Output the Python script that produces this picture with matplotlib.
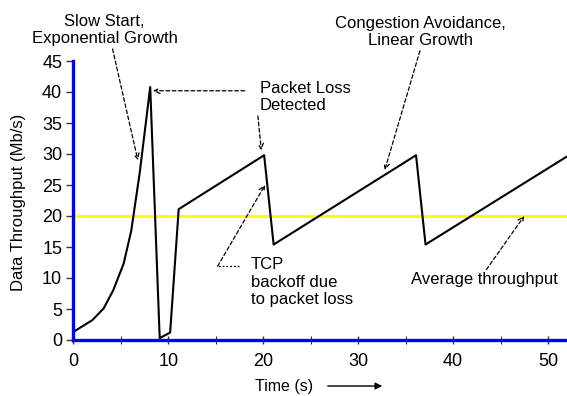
import matplotlib
matplotlib.use('Agg')
import matplotlib.pyplot as plt

plt.rcParams['font.family'] = ['Liberation Sans', 'DejaVu Sans']

# throughput trace (time in s, throughput in Mb/s)
time_s = [0, 2, 3.2, 4.2, 5.3, 6.1, 7, 8.1, 9.1, 10.2, 11.1, 20.1, 21.1, 36.1, 37.1, 52]
throughput = [1.3, 3.2, 5.1, 8, 12.3, 17.6, 27, 40.8, 0.3, 1.2, 21.1, 29.8, 15.4, 29.8, 15.4, 29.6]
average = 20

x_ticks = [0, 10, 20, 30, 40, 50]
y_ticks = [0, 5, 10, 15, 20, 25, 30, 35, 40, 45]

fig = plt.figure(figsize=(5.67, 3.96), dpi=100)
ax = fig.add_axes([73.3 / 567, 1 - 340 / 396, 1 - 73.3 / 567, 279 / 396])

ax.plot(time_s, throughput, color='black', lw=1.5, clip_on=False, zorder=3)
ax.axhline(average, color='#ffff00', lw=2.2, zorder=2)

ax.set_xlim(0, 52)
ax.set_ylim(0, 45)
ax.set_xticks(x_ticks)
ax.set_xticks(range(0, 55, 5), minor=True)
ax.set_yticks(y_ticks)
ax.tick_params(axis='both', labelsize=13, color='#333333', width=1)
ax.tick_params(axis='x', which='both', direction='inout', length=6, pad=6)
ax.tick_params(axis='y', direction='out', length=5, pad=3)

for side in ['top', 'right']:
    ax.spines[side].set_visible(False)
for side in ['left', 'bottom']:
    ax.spines[side].set_color('#0000ff')
    ax.spines[side].set_linewidth(2.4)
    ax.spines[side].set_zorder(4)

fig.text(19 / 567, 1 - 202 / 396, 'Data Throughput (Mb/s)', rotation=90,
         ha='center', va='center', fontsize=12)

dash = dict(arrowstyle='->', linestyle=(0, (3, 2)), lw=0.9, color='black',
            shrinkA=0, shrinkB=0, mutation_scale=10)
txt = dict(fontsize=12, annotation_clip=False)

ax.annotate('Slow Start,\nExponential Growth', xy=(6.8, 29.0), xytext=(3.3, 50),
            ha='center', va='center', arrowprops=dict(dash, relpos=(0.55, 0)), **txt)
ax.annotate('', xy=(8.4, 40.2), xytext=(18.05, 40.2), arrowprops=dash, annotation_clip=False)
ax.annotate('Packet Loss\nDetected', xy=(19.8, 30.6), xytext=(19.65, 39.2),
            ha='left', va='center', arrowprops=dict(dash, relpos=(-0.03, 0.15)), **txt)
ax.annotate('Congestion Avoidance,\nLinear Growth', xy=(32.8, 27.4), xytext=(36.6, 49.7),
            ha='center', va='center', arrowprops=dict(dash, relpos=(0.5, 0)), **txt)

ax.plot([17.5, 15.2], [11.9, 11.9], color='black', lw=0.9, ls=(0, (1.5, 1.5)))
ax.annotate('', xy=(20.2, 25.0), xytext=(15.2, 11.9), arrowprops=dash)
ax.text(18.7, 9.35, 'TCP\nbackoff due\nto packet loss', ha='left', va='center', fontsize=12)

ax.annotate('Average throughput', xy=(47.5, 20.0), xytext=(43.3, 9.7),
            ha='center', va='center', arrowprops=dict(dash, relpos=(0.5, 1)), **txt)

fig.text(284.5 / 567, 1 - 386 / 396, 'Time (s)', ha='center', va='center', fontsize=11.5)
fig.add_artist(matplotlib.patches.FancyArrowPatch(
    (325 / 567, 1 - 386 / 396), (385 / 567, 1 - 386 / 396), transform=fig.transFigure,
    arrowstyle='-|>', mutation_scale=10, lw=1, color='black'))

fig.savefig('out.png', dpi=100)
